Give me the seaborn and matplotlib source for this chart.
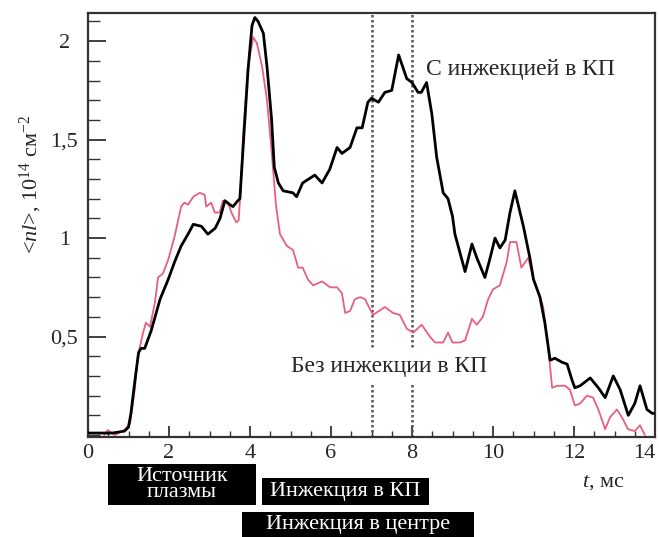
import numpy as np
import pandas as pd
import matplotlib
matplotlib.use("Agg")
import matplotlib.pyplot as plt
from matplotlib.patches import Rectangle
from matplotlib.ticker import MultipleLocator, FixedLocator
import seaborn as sns

# ---- data ----
t_with = [0.0, 0.3, 0.6, 0.9, 1.0, 1.06, 1.16, 1.25, 1.31, 1.4, 1.56, 1.78, 1.98, 2.14, 2.3,
          2.47, 2.6, 2.8, 2.96, 3.14, 3.26, 3.38, 3.5, 3.58, 3.7, 3.75, 3.95, 4.05, 4.12, 4.2,
          4.33, 4.42, 4.53, 4.6, 4.7, 4.82, 5.06, 5.15, 5.3, 5.45, 5.6, 5.78, 5.97, 6.15, 6.27,
          6.47, 6.64, 6.77, 6.91, 7.0, 7.17, 7.33, 7.5, 7.67, 7.87, 8.0, 8.15, 8.23, 8.36, 8.49,
          8.61, 8.77, 8.89, 9.0, 9.06, 9.31, 9.48, 9.6, 9.8, 9.93, 10.05, 10.17, 10.3, 10.42,
          10.54, 10.75, 10.91, 11.0, 11.16, 11.28, 11.41, 11.53, 11.7, 11.83, 11.95, 12.02,
          12.15, 12.4, 12.6, 12.77, 12.97, 13.14, 13.34, 13.5, 13.63, 13.8, 13.93, 14.0]
nl_with = [0.01, 0.01, 0.01, 0.02, 0.04, 0.11, 0.28, 0.42, 0.44, 0.44, 0.53, 0.69, 0.79, 0.88, 0.96,
           1.02, 1.07, 1.06, 1.02, 1.05, 1.10, 1.19, 1.17, 1.16, 1.19, 1.20, 1.85, 2.08, 2.12, 2.10,
           2.04, 1.87, 1.61, 1.36, 1.28, 1.24, 1.23, 1.21, 1.28, 1.30, 1.32, 1.28, 1.35, 1.46, 1.43,
           1.46, 1.56, 1.56, 1.69, 1.71, 1.69, 1.74, 1.75, 1.93, 1.81, 1.79, 1.74, 1.74, 1.79, 1.63,
           1.41, 1.23, 1.20, 1.11, 1.02, 0.83, 0.97, 0.90, 0.80, 0.90, 1.00, 0.95, 0.99, 1.13,
           1.24, 1.06, 0.90, 0.79, 0.70, 0.57, 0.38, 0.39, 0.37, 0.36, 0.28, 0.24,
           0.25, 0.29, 0.24, 0.19, 0.30, 0.23, 0.10, 0.16, 0.25, 0.13, 0.11, 0.11]

t_without = [0.4, 0.49, 0.66, 0.9, 1.04, 1.16, 1.23, 1.36, 1.43, 1.53, 1.65, 1.73, 1.85, 1.98, 2.14,
             2.3, 2.38, 2.47, 2.6, 2.76, 2.88, 2.92, 3.04, 3.13, 3.25, 3.33, 3.46, 3.54, 3.66, 3.72,
             3.77, 3.83, 3.95, 4.08, 4.17, 4.3, 4.42, 4.53, 4.64, 4.74, 4.91, 5.06, 5.19, 5.3, 5.43,
             5.56, 5.78, 5.98, 6.15, 6.27, 6.35, 6.47, 6.59, 6.72, 6.84, 6.96, 7.04, 7.33, 7.53, 7.7,
             7.87, 8.03, 8.24, 8.44, 8.57, 8.77, 8.89, 9.0, 9.19, 9.31, 9.48, 9.6, 9.75, 9.88, 10.0,
             10.17, 10.34, 10.42, 10.58, 10.7, 10.87, 10.99, 11.16, 11.24, 11.36, 11.46, 11.58,
             11.78, 11.9, 12.02, 12.15, 12.32, 12.47, 12.6, 12.77, 12.89, 13.06, 13.21, 13.33,
             13.5, 13.63, 13.75]
nl_without = [0.0, 0.025, 0.0, 0.025, 0.06, 0.24, 0.40, 0.52, 0.57, 0.55, 0.67, 0.80, 0.82, 0.89, 1.01,
              1.16, 1.18, 1.17, 1.21, 1.23, 1.22, 1.16, 1.18, 1.13, 1.13, 1.19, 1.18, 1.13, 1.08, 1.09,
              1.25, 1.53, 1.87, 2.02, 1.99, 1.87, 1.70, 1.45, 1.17, 1.02, 0.96, 0.94, 0.85, 0.85, 0.79,
              0.76, 0.78, 0.75, 0.75, 0.72, 0.62, 0.63, 0.69, 0.70, 0.69, 0.64, 0.61, 0.65, 0.62, 0.61,
              0.54, 0.52, 0.56, 0.50, 0.47, 0.47, 0.52, 0.47, 0.47, 0.48, 0.59, 0.56, 0.60, 0.69, 0.74,
              0.76, 0.88, 0.98, 0.98, 0.85, 0.90, 0.80, 0.70, 0.65, 0.45, 0.24, 0.25,
              0.25, 0.23, 0.15, 0.16, 0.20, 0.19, 0.13, 0.03, 0.09, 0.13, 0.08, 0.03,
              0.02, 0.05, 0.0]

injection_lines = [7.0, 8.0]
x_ticks = [0, 2, 4, 6, 8, 10, 12, 14]
y_ticks = [0.5, 1.0, 1.5, 2.0]
y_tick_labels = ["0,5", "1", "1,5", "2"]
label_with = "С инжекцией в КП"
label_without = "Без инжекции в КП"
box_texts = ["Источник\nплазмы", "Инжекция в КП", "Инжекция в центре"]

# ---- style ----
sns.set_theme(style="white")
plt.rcParams["font.family"] = ["Liberation Serif", "DejaVu Serif"]
plt.rcParams["mathtext.fontset"] = "custom"
plt.rcParams["mathtext.rm"] = "Liberation Serif"
plt.rcParams["mathtext.it"] = "Liberation Serif:italic"

W, H = 659, 537
fig = plt.figure(figsize=(W / 100, H / 100), dpi=100)
ax = fig.add_axes([88 / W, 1 - 437 / H, (655 - 88) / W, (437 - 13) / H])

df_w = pd.DataFrame({"t": t_with, "nl": nl_with})
df_wo = pd.DataFrame({"t": t_without, "nl": nl_without})

for xv in injection_lines:
    ax.axvline(xv, color="#555555", lw=1.8, ls=(0, (1, 1)), zorder=1)

sns.lineplot(data=df_wo, x="t", y="nl", ax=ax, color="#e8607e", lw=1.3, zorder=3)
sns.lineplot(data=df_w, x="t", y="nl", ax=ax, color="black", lw=2.0, zorder=4)

ax.set_xlim(0, 14.0)
ax.set_ylim(-0.01, 2.143)

ax.xaxis.set_major_locator(FixedLocator(x_ticks))
ax.xaxis.set_minor_locator(MultipleLocator(0.5))
ax.yaxis.set_major_locator(FixedLocator(y_ticks))
ax.yaxis.set_minor_locator(MultipleLocator(0.1))
ax.set_yticklabels(y_tick_labels)
ax.set_xticklabels([str(v) for v in x_ticks])

ax.tick_params(axis="x", which="major", direction="in", length=8, width=1.3, color="#333333",
               labelsize=16, pad=5, bottom=True)
ax.tick_params(axis="x", which="minor", direction="in", length=4, width=1.0, color="#333333", bottom=True)
ax.tick_params(axis="y", which="major", direction="in", length=13, width=1.3, color="#333333",
               labelsize=16, pad=17, left=True)
ax.tick_params(axis="y", which="minor", direction="in", length=8.5, width=1.0, color="#333333", left=True)
for lab in ax.get_yticklabels():
    lab.set_horizontalalignment("center")
ax.get_xticklabels()[-1].set_horizontalalignment("right")

for s in ax.spines.values():
    s.set_visible(True)
    s.set_color("#333333")
    s.set_linewidth(1.6)

ax.set_xlabel("")
ax.set_ylabel("<$nl$>, 10$^{14}$ см$^{-2}$", fontsize=16)
ax.yaxis.set_label_coords(-0.077, 0.595)

fig.text(603 / W, 1 - 483 / H, "$t$, мс", fontsize=16, ha="center", va="center")

ax.text(10.67, 1.83, label_with, fontsize=17, ha="center", va="baseline", zorder=5)
ax.text(7.43, 0.32, label_without, fontsize=17, ha="center", va="baseline", zorder=5,
        bbox=dict(facecolor="white", edgecolor="none", pad=5))

# black label boxes below the axis (figure pixel boxes)
boxes = [(108, 464, 256, 505), (262, 478, 429, 505), (242, 512, 474, 537)]
for (x0, y0, x1, y1), txt in zip(boxes, box_texts):
    fig.patches.append(Rectangle((x0 / W, 1 - y1 / H), (x1 - x0) / W, (y1 - y0) / H,
                                 transform=fig.transFigure, facecolor="black", edgecolor="none"))
    fig.text((x0 + x1) / 2 / W, 1 - (y0 + y1) / 2 / H, txt, color="white", fontsize=16,
             ha="center", va="center", linespacing=0.85)

fig.savefig("out.png", dpi=100)
